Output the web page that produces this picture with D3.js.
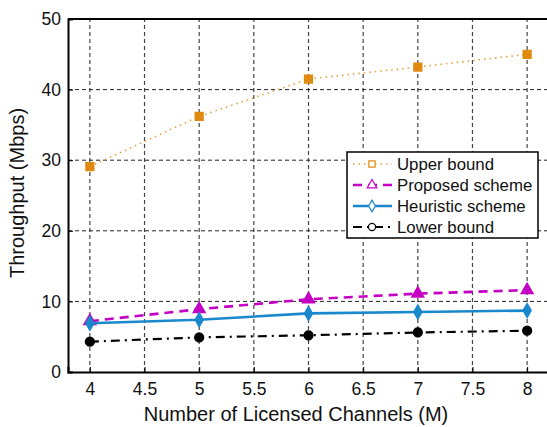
<!DOCTYPE html>
<html>
<head>
<meta charset="utf-8">
<script src="https://cdn.jsdelivr.net/npm/d3@7"></script>
<style>
  body { margin: 0; background: #fff; }
  svg { font-family: "Liberation Sans", Arial, sans-serif; }
</style>
</head>
<body>
<div id="chart"></div>
<script>
const channels = [4, 5, 6, 7, 8];
const upperBound = [29.1, 36.2, 41.5, 43.2, 45.0];
const proposed = [7.2, 8.9, 10.3, 11.1, 11.6];
const heuristic = [6.9, 7.4, 8.3, 8.5, 8.7];
const lowerBound = [4.3, 4.9, 5.2, 5.6, 5.85];
const xTicks = [4, 4.5, 5, 5.5, 6, 6.5, 7, 7.5, 8];
const yTicks = [0, 10, 20, 30, 40, 50];

const width = 547, height = 427;
const margin = {left: 68, top: 19, right: -2, bottom: 55};

const svg = d3.select("#chart").append("svg")
    .attr("width", width)
    .attr("height", height);

const x = d3.scaleLinear().domain([3.8, 8.2]).range([margin.left, width - margin.right]);
const y = d3.scaleLinear().domain([0, 50]).range([height - margin.bottom, margin.top]);

// grid
svg.append("g").selectAll("line")
    .data(xTicks)
    .enter().append("line")
    .attr("x1", d => x(d)).attr("x2", d => x(d))
    .attr("y1", y(0)).attr("y2", y(50))
    .attr("stroke", "#444")
    .attr("stroke-width", 1.2)
    .attr("stroke-dasharray", "4,3");

svg.append("g").selectAll("line")
    .data(yTicks.slice(1, -1))
    .enter().append("line")
    .attr("x1", x(3.8)).attr("x2", x(8.2))
    .attr("y1", d => y(d)).attr("y2", d => y(d))
    .attr("stroke", "#222")
    .attr("stroke-width", 1)
    .attr("stroke-dasharray", "4,3");

// axes
const xAxis = d3.axisBottom(x).tickValues(xTicks).tickSize(-5).tickPadding(11)
    .tickFormat(d3.format("~g"));
const yAxis = d3.axisLeft(y).tickValues(yTicks).tickSize(-5).tickPadding(7);

const gx = svg.append("g").attr("transform", `translate(0,${y(0)})`).call(xAxis);
const gy = svg.append("g").attr("transform", `translate(${x(3.8)},0)`).call(yAxis);
[gx, gy].forEach(g => {
    g.select(".domain").attr("stroke", "#000").attr("stroke-width", 2);
    g.selectAll(".tick line").attr("stroke", "#000").attr("stroke-width", 1);
    g.selectAll(".tick text").attr("font-size", 17.5).attr("fill", "#111")
        .attr("font-family", "Liberation Sans, Arial, sans-serif");
});

// top border
svg.append("line")
    .attr("x1", x(3.8)).attr("x2", width)
    .attr("y1", y(50)).attr("y2", y(50))
    .attr("stroke", "#000").attr("stroke-width", 2);

// series
const series = [
    {name: "Upper bound", values: upperBound, color: "#e8a040", mcolor: "#e08a10", width: 1.6, dash: "1.5,4", marker: "square"},
    {name: "Proposed scheme", values: proposed, color: "#c400c4", mcolor: "#c400c4", width: 2.6, dash: "9,6", marker: "triangle"},
    {name: "Heuristic scheme", values: heuristic, color: "#1a88cc", mcolor: "#1a88cc", width: 2.6, dash: null, marker: "diamond"},
    {name: "Lower bound", values: lowerBound, color: "#000", mcolor: "#000", width: 2.2, dash: "9,5,2,5", marker: "circle"}
];

const line = d3.line().x(d => x(d[0])).y(d => y(d[1]));

const symbolType = {
    square: d3.symbolSquare,
    triangle: d3.symbolTriangle,
    diamond: d3.symbolDiamond,
    circle: d3.symbolCircle
};

series.forEach(s => {
    const pts = channels.map((c, i) => [c, s.values[i]]);
    svg.append("path")
        .attr("d", line(pts))
        .attr("fill", "none")
        .attr("stroke", s.color)
        .attr("stroke-width", s.width)
        .attr("stroke-dasharray", s.dash);

    svg.selectAll(null)
        .data(pts)
        .enter().append("path")
        .attr("transform", d => `translate(${x(d[0])},${y(d[1])})`)
        .attr("d", d3.symbol().type(symbolType[s.marker]).size(s.marker === "diamond" ? 55 : 60))
        .attr("fill", s.mcolor)
        .attr("stroke", s.mcolor)
        .attr("stroke-width", 1.5);
});

// legend
const lg = svg.append("g").attr("transform", "translate(347,152)");
lg.append("rect")
    .attr("width", 191).attr("height", 86)
    .attr("fill", "#fff").attr("stroke", "#000").attr("stroke-width", 1.5);

series.forEach((s, i) => {
    const row = lg.append("g").attr("transform", `translate(0,${12 + i * 21})`);
    row.append("line")
        .attr("x1", 6).attr("x2", 45)
        .attr("stroke", s.color)
        .attr("stroke-width", s.width)
        .attr("stroke-dasharray", s.dash);
    row.append("path")
        .attr("transform", "translate(25,0)")
        .attr("d", d3.symbol().type(symbolType[s.marker]).size(40))
        .attr("fill", "#fff")
        .attr("stroke", s.mcolor)
        .attr("stroke-width", 1.2);
    row.append("text")
        .attr("x", 50).attr("y", 6)
        .attr("font-size", 16.8)
        .attr("fill", "#111")
        .text(s.name);
});

// axis labels
svg.append("text")
    .attr("x", 296).attr("y", 421)
    .attr("text-anchor", "middle")
    .attr("font-size", 20)
    .attr("fill", "#111")
    .text("Number of Licensed Channels (M)");

svg.append("text")
    .attr("transform", "translate(24,193) rotate(-90)")
    .attr("text-anchor", "middle")
    .attr("font-size", 20)
    .attr("fill", "#111")
    .text("Throughput (Mbps)");
</script>
</body>
</html>
